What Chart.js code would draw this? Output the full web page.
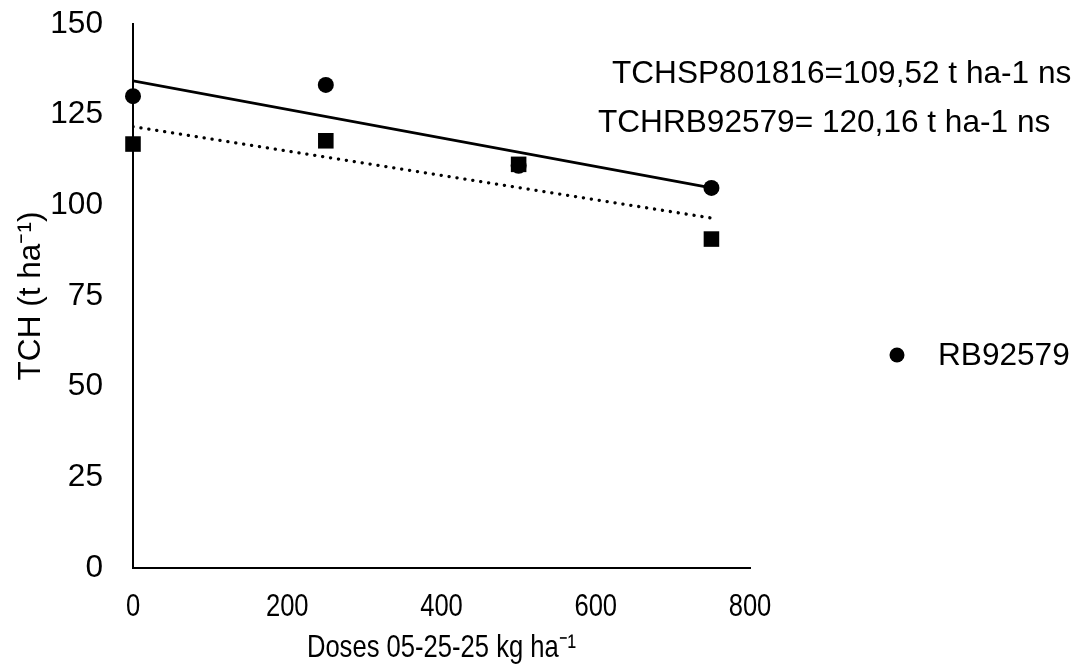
<!DOCTYPE html>
<html><head><meta charset="utf-8">
<script src="https://cdn.jsdelivr.net/npm/chart.js@4/dist/chart.umd.min.js"></script>
<style>html,body{margin:0;padding:0;background:#fff}#wrap{width:1082px;height:669px}</style>
</head><body><div id="wrap"><canvas id="c" width="1082" height="669"></canvas></div>
<script>
const doses = [0, 250, 500, 750];
const tchRB92579 = [130.1, 133.2, 110.9, 104.8];
const tchSP801816 = [116.9, 117.8, 111.3, 90.7];
const trendDoses = [0, 750];
const trendRB92579 = [134.3, 104.8];
const trendSP801816 = [121.7, 96.5];
const xTicks = [0, 200, 400, 600, 800];
const yTicks = [0, 25, 50, 75, 100, 125, 150];
const annotations = ["TCHSP801816=109,52 t ha-1 ns", "TCHRB92579= 120,16 t ha-1 ns"];
const legendLabel = "RB92579";

const pts = (xs, ys) => xs.map((x, i) => ({x: x, y: ys[i]}));
const FONT = "'Liberation Sans', Arial, sans-serif";
const FS = 31.6;

// Narrow rendering for the x axis texts (reference uses a condensed face)
function narrowWrap(scale, method, factor) {
  const orig = scale[method].bind(scale);
  scale[method] = function (a) {
    const ctx = scale.ctx;
    const of = ctx.fillText;
    ctx.fillText = function (t, x, y, m) {
      this.save();
      this.translate(x, y);
      this.scale(factor, 1);
      of.call(this, t, 0, 0, m);
      this.restore();
    };
    try { orig(a); } finally { ctx.fillText = of; }
  };
}

const extras = {
  id: 'extras',
  afterLayout(chart) {
    const s = chart.scales.x;
    if (!s._narrowed) {
      narrowWrap(s, 'drawLabels', 0.8);
      narrowWrap(s, 'drawTitle', 0.8);
      s._narrowed = true;
    }
  },
  afterDraw(chart) {
    const ctx = chart.ctx;
    ctx.save();
    ctx.fillStyle = '#000';
    ctx.font = FS + "px " + FONT;
    ctx.textBaseline = 'middle';
    ctx.textAlign = 'left';
    ctx.fillText(annotations[0], 612, 74);
    ctx.fillText(annotations[1], 598, 123);
    // legend
    ctx.beginPath();
    ctx.arc(897, 355, 7.5, 0, Math.PI * 2);
    ctx.fill();
    ctx.fillText(legendLabel, 938, 356);
    ctx.restore();
  }
};

new Chart(document.getElementById('c'), {
  type: 'scatter',
  data: {
    datasets: [
      {label: 'SP801816', data: pts(doses, tchSP801816), pointStyle: 'rect', pointRadius: 11,
       backgroundColor: '#000', borderColor: '#000', borderWidth: 0, order: 0, clip: false},
      {label: 'RB92579', data: pts(doses, tchRB92579), pointStyle: 'circle', pointRadius: 8,
       backgroundColor: '#000', borderColor: '#000', borderWidth: 0, order: 1, clip: false},
      {type: 'line', label: 'Linear (RB92579)', data: pts(trendDoses, trendRB92579), showLine: true,
       borderColor: '#000', borderWidth: 2.7, pointRadius: 0, fill: false, order: 2},
      {type: 'line', label: 'Linear (SP801816)', data: pts(trendDoses, trendSP801816), showLine: true,
       borderColor: '#000', borderWidth: 3.3, borderDash: [0.1, 7.9], borderCapStyle: 'round',
       pointRadius: 0, fill: false, order: 3}
    ]
  },
  options: {
    responsive: false,
    animation: false,
    devicePixelRatio: 1,
    layout: {padding: {left: 0, right: 332, top: 24, bottom: 0}},
    plugins: {legend: {display: false}, tooltip: {enabled: false}},
    scales: {
      x: {
        type: 'linear', min: 0, max: 800,
        afterBuildTicks: s => { s.ticks = xTicks.map(v => ({value: v})); },
        afterFit: s => { s.height = 101; s.paddingLeft = 0; s.paddingRight = 0; },
        grid: {display: false, drawTicks: false},
        border: {display: true, color: '#000', width: 2},
        ticks: {color: '#000', font: {family: FONT, size: 32}, padding: 20, maxRotation: 0},
        title: {display: true, text: 'Doses 05-25-25 kg ha\u207B\u00B9', color: '#000',
                font: {family: FONT, size: 32}, padding: {top: 0, bottom: 2}}
      },
      y: {
        type: 'linear', min: 0, max: 150,
        afterBuildTicks: s => { s.ticks = yTicks.map(v => ({value: v})); },
        afterFit: s => { s.width = 133; s.paddingTop = 0; s.paddingBottom = 0; },
        grid: {display: false, drawTicks: false},
        border: {display: true, color: '#000', width: 2},
        ticks: {color: '#000', font: {family: FONT, size: FS}, padding: 30},
        title: {display: true, text: 'TCH (t ha\u207B\u00B9)', color: '#000',
                font: {family: FONT, size: FS}, padding: {top: 12, bottom: 0}}
      }
    }
  },
  plugins: [extras]
});
</script></body></html>
